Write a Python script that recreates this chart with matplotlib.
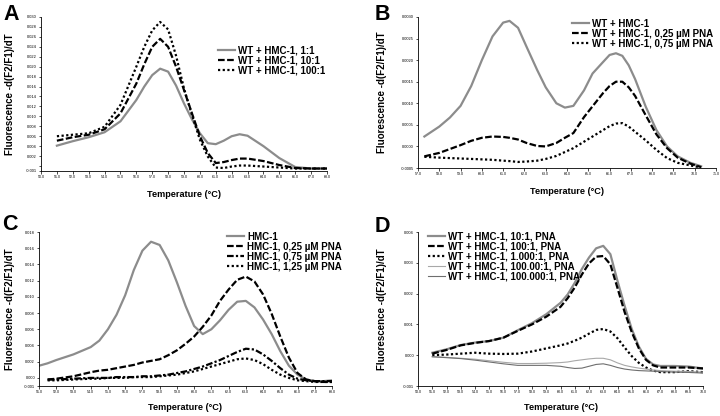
import numpy as np
import matplotlib
matplotlib.use('Agg')
import matplotlib.pyplot as plt

plt.rcParams['font.family'] = ['Liberation Sans', 'DejaVu Sans']

GRAY = '#8c8c8c'
nan = np.nan

# ---- panel A: WT + HMC-1 mixtures ----
a_temp = [51, 52, 53, 54, 55, 56, 56.5, 57, 57.5, 58, 58.5, 59, 59.5, 60, 60.5,
          61, 61.5, 62, 62.5, 63, 64, 65, 66, 67, 68]
a_1to1 = [0.0041, 0.0050, 0.0058, 0.0068, 0.0090, 0.0133, 0.0160, 0.0183, 0.0196,
          0.0190, 0.0162, 0.0126, 0.0094, 0.0066, 0.0046, 0.0044, 0.0051, 0.0060,
          0.0064, 0.0061, 0.0040, 0.0016, -0.0002, -0.0005, -0.0005]
a_10to1 = [0.0051, 0.0058, 0.0063, 0.0074, 0.0106, 0.0166, 0.0205, 0.0240, 0.0256,
           0.0240, 0.0200, 0.0153, 0.0106, 0.0060, 0.0026, 0.0006, 0.0008, 0.0012,
           0.0015, 0.0015, 0.0010, 0.0002, -0.0004, -0.0005, -0.0005]
a_100to1 = [0.0060, 0.0063, 0.0066, 0.0079, 0.0123, 0.0200, 0.0240, 0.0273, 0.0290,
            0.0275, 0.0222, 0.0156, 0.0103, 0.0053, 0.0019, -0.0003, -0.0004, -0.0001,
            0.0001, 0.0001, -0.0001, -0.0003, -0.0005, -0.0005, -0.0005]
a_labels = ['WT + HMC-1, 1:1', 'WT + HMC-1, 10:1', 'WT + HMC-1, 100:1']

# ---- panel B: WT + HMC-1 with PNA ----
b_temp = [57.3, 58.0, 58.5, 59.0, 59.5, 60.0, 60.5, 61.0, 61.3, 61.7, 62.1, 62.6, 63.0,
          63.5, 63.9, 64.3, 64.8, 65.2, 65.7, 66.0, 66.3, 66.6, 66.9, 67.2, 67.7,
          68.2, 68.7, 69.2, 69.8, 70.3]
b_nopna = [0.00023, 0.00046, 0.00067, 0.00094, 0.00140, 0.00200, 0.00255, 0.00287,
           0.00291, 0.00275, 0.00231, 0.00177, 0.00137, 0.00100, 0.00090, 0.00094,
           0.00130, 0.00169, 0.00196, 0.00212, 0.00216, 0.00210, 0.00188, 0.00156,
           0.00092, 0.00038, 0.00000, -0.00023, -0.00038, -0.00046]
b_pna025 = [-0.00023, -0.00015, -0.00006, 0.00003, 0.00013, 0.00020, 0.00023, 0.00022,
            0.00020, 0.00016, 0.00008, 0.00001, 0.00000, 0.00008, 0.00020, 0.00031,
            0.00068, 0.00093, 0.00124, 0.00140, 0.00150, 0.00150, 0.00137, 0.00117,
            0.00072, 0.00028, -0.00004, -0.00026, -0.00040, -0.00048]
b_pna075 = [-0.00024, -0.00026, -0.00027, -0.00028, -0.00029, -0.00030, -0.00031,
            -0.00033, -0.00034, -0.00036, -0.00035, -0.00033, -0.00029, -0.00022,
            -0.00013, -0.00004, 0.00011, 0.00023, 0.00038, 0.00047, 0.00053, 0.00054,
            0.00046, 0.00034, 0.00014, -0.00008, -0.00027, -0.00038, -0.00044, -0.00049]
b_labels = ['WT + HMC-1', 'WT + HMC-1, 0,25 µM PNA', 'WT + HMC-1, 0,75 µM PNA']

# ---- panel C: HMC-1 with PNA ----
c_temp = [51.0, 51.5, 52, 53, 54, 54.5, 55, 55.5, 56, 56.5, 57, 57.5, 58, 58.5, 59,
          59.5, 60, 60.5, 61, 61.5, 62, 62.5, 63, 63.5, 64, 64.5, 65, 65.5, 66,
          66.5, 67, 67.5, 68]
c_nopna = [0.0015, 0.0018, 0.0022, 0.0029, 0.0038, 0.0046, 0.0060, 0.0078, 0.0102,
           0.0133, 0.0157, 0.0168, 0.0164, 0.0145, 0.0118, 0.0089, 0.0064, 0.0054,
           0.0060, 0.0071, 0.0084, 0.0094, 0.0095, 0.0087, 0.0072, 0.0054, 0.0033,
           0.0015, 0.0004, -0.0002, -0.0004, -0.0004, -0.0003]
c_pna025 = [nan, -0.0002, -0.0001, 0.0002, 0.0007, 0.0009, 0.0010, 0.0012, 0.0014,
            0.0016, 0.0019, 0.0021, 0.0023, 0.0028, 0.0034, 0.0042, 0.0051, 0.0063,
            0.0077, 0.0095, 0.0109, 0.0121, 0.0125, 0.0119, 0.0103, 0.0079, 0.0051,
            0.0025, 0.0006, -0.0002, -0.0004, -0.0005, -0.0005]
c_pna075 = [nan, -0.0002, -0.0002, -0.0001, 0.0000, 0.0000, 0.0000, 0.0001, 0.0001,
            0.0001, 0.0002, 0.0002, 0.0003, 0.0004, 0.0006, 0.0008, 0.0011, 0.0014,
            0.0018, 0.0022, 0.0027, 0.0032, 0.0036, 0.0035, 0.0029, 0.0021, 0.0012,
            0.0004, -0.0001, -0.0003, -0.0004, -0.0004, -0.0004]
c_pna125 = [nan, -0.0003, -0.0003, -0.0002, -0.0001, -0.0001, 0.0000, 0.0000, 0.0000,
            0.0001, 0.0001, 0.0001, 0.0002, 0.0003, 0.0004, 0.0006, 0.0008, 0.0011,
            0.0014, 0.0017, 0.0020, 0.0023, 0.0024, 0.0022, 0.0017, 0.0010, 0.0004,
            0.0000, -0.0003, -0.0004, -0.0005, -0.0005, -0.0005]
c_labels = ['HMC-1', 'HMC-1, 0,25 µM PNA', 'HMC-1, 0,75 µM PNA', 'HMC-1, 1,25 µM PNA']

# ---- panel D: dilution series with PNA ----
d_temp = [51, 52, 53, 54, 55, 56, 57, 58, 59, 60, 60.5, 61, 61.5, 62, 62.5, 63, 63.5,
          64, 64.5, 65, 65.5, 66, 66.5, 67, 68, 69, 70]
d_10 = [0.00008, 0.00019, 0.00033, 0.00041, 0.00046, 0.00057, 0.00081, 0.00104,
        0.00133, 0.00170, 0.00197, 0.00235, 0.00280, 0.00317, 0.00347, 0.00355,
        0.00328, 0.00241, 0.00160, 0.00085, 0.00028, -0.00012, -0.00030, -0.00035,
        -0.00035, -0.00037, -0.00043]
d_100 = [0.00005, 0.00017, 0.00032, 0.00040, 0.00046, 0.00057, 0.00079, 0.00100,
         0.00125, 0.00157, 0.00185, 0.00220, 0.00262, 0.00298, 0.00320, 0.00322,
         0.00295, 0.00218, 0.00140, 0.00075, 0.00022, -0.00015, -0.00033, -0.00040,
         -0.00040, -0.00040, -0.00043]
d_1000 = [0.00000, 0.00002, 0.00005, 0.00008, 0.00005, 0.00004, 0.00005, 0.00012,
          0.00022, 0.00032, 0.00038, 0.00047, 0.00057, 0.00070, 0.00082, 0.00085,
          0.00077, 0.00055, 0.00025, -0.00003, -0.00025, -0.00040, -0.00050, -0.00055,
          -0.00055, -0.00052, -0.00055]
d_10000 = [-0.00005, -0.00007, -0.00010, -0.00013, -0.00018, -0.00023, -0.00027,
           -0.00027, -0.00026, -0.00024, -0.00022, -0.00018, -0.00015, -0.00012,
           -0.00010, -0.00010, -0.00015, -0.00025, -0.00033, -0.00038, -0.00042,
           -0.00045, -0.00048, -0.00050, -0.00052, -0.00053, -0.00055]
d_100000 = [-0.00005, -0.00008, -0.00011, -0.00016, -0.00022, -0.00028, -0.00033,
            -0.00033, -0.00033, -0.00036, -0.00040, -0.00043, -0.00042, -0.00036,
            -0.00030, -0.00028, -0.00033, -0.00040, -0.00045, -0.00048, -0.00050,
            -0.00051, -0.00052, -0.00053, -0.00055, -0.00056, -0.00058]
d_labels = ['WT + HMC-1, 10:1, PNA', 'WT + HMC-1, 100:1, PNA', 'WT + HMC-1, 1.000:1, PNA',
            'WT + HMC-1, 100.00:1, PNA', 'WT + HMC-1, 100.000:1, PNA']

W, H = 720, 416
fig = plt.figure(figsize=(W / 100, H / 100), dpi=100)

SOLID = dict(color=GRAY, lw=1.6, ls='-')
DASH = dict(color='black', lw=1.6, ls=(0, (3, 1.1)))
DOT = dict(color='black', lw=1.6, ls=(0, (1, 1.1)))
DASHDOT = dict(color='black', lw=1.6, ls=(0, (3, 1, 1, 1)))


def px_axes(left, right, top, bottom):
    return fig.add_axes([left / W, 1 - bottom / H, (right - left) / W, (bottom - top) / H])


def style(ax, xlim, ylim, yticks, yfmt, blank_zero=False, ylab_x=-0.09, xlab_y=-0.12):
    for s in ('top', 'right'):
        ax.spines[s].set_visible(False)
    for s in ('left', 'bottom'):
        ax.spines[s].set_linewidth(0.6)
    ax.set_xlim(*xlim)
    ax.set_ylim(*ylim)
    xt = np.arange(xlim[0], xlim[1] + 0.01, 1.0)
    ax.set_xticks(xt)
    ax.set_xticklabels([f'{v:.1f}' for v in xt])
    ax.set_yticks(yticks)
    ax.set_yticklabels(['' if (blank_zero and abs(v) < 1e-9) else yfmt.format(v)
                        for v in yticks])
    ax.tick_params(axis='both', length=1.8, width=0.5, pad=1)
    ax.tick_params(axis='x', labelsize=2.6)
    ax.tick_params(axis='y', labelsize=2.9)
    ax.set_xlabel('Temperature (°C)', fontsize=6.6, fontweight='bold')
    ax.set_ylabel('Fluorescence -d(F2/F1)/dT', fontsize=7, fontweight='bold')
    ax.xaxis.set_label_coords(0.5, xlab_y)
    ax.yaxis.set_label_coords(ylab_x, 0.5)


def legend(ax, x, y):
    ax.legend(loc='upper left', bbox_to_anchor=(x / W, 1 - y / H),
              bbox_transform=fig.transFigure, frameon=False, borderpad=0,
              handlelength=1.75, handletextpad=0.35, labelspacing=0.0,
              prop={'weight': 'bold', 'size': 7.0})


# A
ax = px_axes(41, 327, 17, 171)
ax.plot(a_temp, a_1to1, label=a_labels[0], **SOLID)
ax.plot(a_temp, a_10to1, label=a_labels[1], **DASH)
ax.plot(a_temp, a_100to1, label=a_labels[2], **DOT)
style(ax, (50, 68), (-0.001, 0.030), [-0.001] + list(np.arange(0, 0.0301, 0.002)),
      '{:.3f}', blank_zero=True, ylab_x=-0.09, xlab_y=-0.123)
legend(ax, 213, 41)

# B
ax = px_axes(418, 716, 17, 168)
ax.plot(b_temp, b_nopna, label=b_labels[0], **SOLID)
ax.plot(b_temp, b_pna025, label=b_labels[1], **DASH)
ax.plot(b_temp, b_pna075, label=b_labels[2], **DOT)
style(ax, (57, 71), (-0.0005, 0.0030), list(np.arange(-0.0005, 0.00301, 0.0005)),
      '{:.4f}', ylab_x=-0.104, xlab_y=-0.126)
legend(ax, 567, 14)

# C
ax = px_axes(39, 332, 232, 386)
ax.plot(c_temp, c_nopna, label=c_labels[0], **SOLID)
ax.plot(c_temp, c_pna025, label=c_labels[1], **DASH)
ax.plot(c_temp, c_pna075, label=c_labels[2], **DASHDOT)
ax.plot(c_temp, c_pna125, label=c_labels[3], **DOT)
style(ax, (51, 68), (-0.001, 0.018), [-0.001] + list(np.arange(0, 0.0181, 0.002)),
      '{:.3f}', ylab_x=-0.082, xlab_y=-0.110)
legend(ax, 222, 227)

# D
ax = px_axes(418, 703, 232, 386)
ax.plot(d_temp, d_10, label=d_labels[0], **SOLID)
ax.plot(d_temp, d_100, label=d_labels[1], **DASH)
ax.plot(d_temp, d_1000, label=d_labels[2], **DOT)
ax.plot(d_temp, d_10000, label=d_labels[3], color='#a8a8a8', lw=0.8)
ax.plot(d_temp, d_100000, label=d_labels[4], color='#6e6e6e', lw=0.8)
style(ax, (50, 70), (-0.001, 0.004), list(np.arange(-0.001, 0.00401, 0.001)),
      '{:.3f}', ylab_x=-0.109, xlab_y=-0.110)
legend(ax, 423, 227)

for letter, (x, y) in zip('ABCD', [(3, 4), (375, 4), (2, 214), (375, 216)]):
    fig.text(x / W, 1 - y / H, letter, fontsize=15.5, fontweight='bold',
             va='top', ha='left')

fig.savefig('out.png', dpi=100)
